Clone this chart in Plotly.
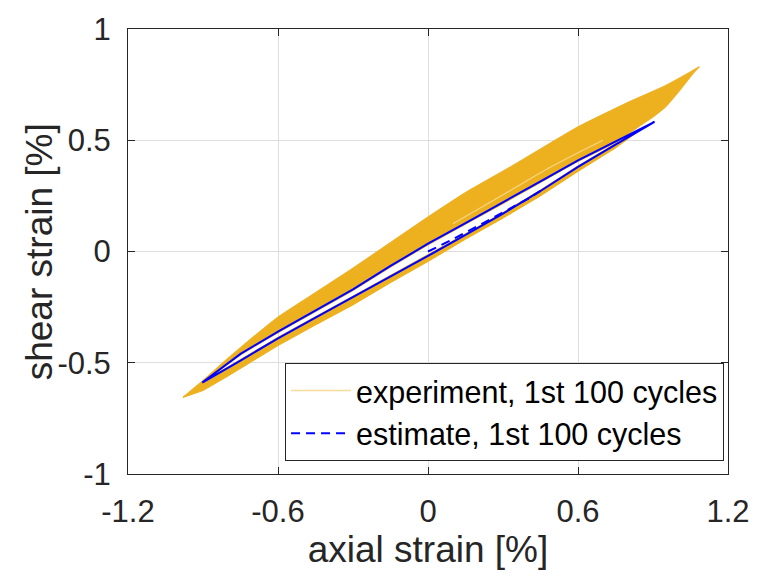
import plotly.graph_objects as go

# ---- axes ----
x_ticks = [-1.2, -0.6, 0, 0.6, 1.2]
x_tick_text = ["-1.2", "-0.6", "0", "0.6", "1.2"]
y_ticks = [-1, -0.5, 0, 0.5, 1]
y_tick_text = ["-1", "-0.5", "0", "0.5", "1"]

# ---- experiment (envelope of the first 100 cycles) ----
# top edge of the unloading band, from the negative tip to the positive tip
exp_top_x = [-0.98, -0.9, -0.8, -0.7, -0.6, -0.45, -0.3, -0.15, 0.0, 0.15, 0.33, 0.6, 0.8, 0.95, 1.04, 1.085]
exp_top_y = [-0.656, -0.58, -0.48, -0.385, -0.295, -0.185, -0.075, 0.04, 0.155, 0.265, 0.38, 0.56, 0.67, 0.745, 0.8, 0.83]
# outer edge of the positive tip
exp_tip_x = [1.06, 1.0, 0.95, 0.9, 0.86]
exp_tip_y = [0.80, 0.715, 0.65, 0.605, 0.575]
# inner edge of the unloading band
exp_unload_x = [0.75, 0.6, 0.45, 0.3, 0.15, 0.0, -0.15, -0.3, -0.45, -0.6, -0.75, -0.9]
exp_unload_y = [0.49, 0.405, 0.31, 0.215, 0.123, 0.03, -0.07, -0.175, -0.27, -0.365, -0.465, -0.59]
# lower edge of the loading branch
exp_load_x = [-0.98, -0.9, -0.8, -0.7, -0.6, -0.45, -0.3, -0.15, 0.0, 0.15, 0.3, 0.45, 0.6, 0.75, 0.86]
exp_load_y = [-0.656, -0.625, -0.56, -0.49, -0.423, -0.33, -0.24, -0.14, -0.045, 0.055, 0.15, 0.25, 0.36, 0.465, 0.555]
# inner edge of the loading branch
exp_load_in_x = [0.75, 0.6, 0.45, 0.3, 0.15, 0.0, -0.15, -0.3, -0.45, -0.6, -0.75, -0.9]
exp_load_in_y = [0.485, 0.385, 0.277, 0.175, 0.08, -0.015, -0.107, -0.2, -0.292, -0.385, -0.485, -0.585]
# faint streak of lighter cycles inside the band
exp_streak_x = [0.1, 0.3, 0.5, 0.7]
exp_streak_y = [0.125, 0.255, 0.385, 0.5]

# ---- estimate ----
est_unload_x = [0.906, 0.75, 0.6, 0.45, 0.3, 0.15, 0.0, -0.15, -0.3, -0.45, -0.6, -0.75, -0.903]
est_unload_y = [0.583, 0.495, 0.41, 0.315, 0.22, 0.128, 0.035, -0.065, -0.17, -0.265, -0.36, -0.46, -0.589]
est_load_x = [-0.903, -0.75, -0.6, -0.45, -0.3, -0.15, 0.0, 0.15, 0.3, 0.45, 0.6, 0.75, 0.906]
est_load_y = [-0.589, -0.49, -0.39, -0.297, -0.205, -0.112, -0.02, 0.075, 0.17, 0.272, 0.38, 0.48, 0.583]
est_init_x = [0.0, 0.1, 0.2, 0.3, 0.4, 0.45]
est_init_y = [0.0, 0.055, 0.115, 0.175, 0.237, 0.272]

ORANGE = "#EDB120"
BLUE = "#0000FF"
FONT = "Liberation Sans, Arial, Helvetica, sans-serif"
TEXT = "#262626"

band_x = exp_top_x + exp_tip_x + exp_unload_x + [exp_top_x[0]]
band_y = exp_top_y + exp_tip_y + exp_unload_y + [exp_top_y[0]]
load_x = exp_load_x + exp_load_in_x + [exp_load_x[0]]
load_y = exp_load_y + exp_load_in_y + [exp_load_y[0]]

fig = go.Figure()

# legend entry for the experiment cycles (thin translucent line)
fig.add_trace(go.Scatter(
    x=band_x, y=band_y, mode="lines",
    line=dict(color="rgba(237,177,32,0.45)", width=1.5),
    name="experiment, 1st 100 cycles", legendgroup="exp", hoverinfo="skip"))
fig.add_trace(go.Scatter(
    x=band_x, y=band_y, mode="lines", fill="toself", fillcolor=ORANGE,
    line=dict(color=ORANGE, width=1, shape="spline", smoothing=0.6),
    showlegend=False, legendgroup="exp"))
fig.add_trace(go.Scatter(
    x=load_x, y=load_y, mode="lines", fill="toself", fillcolor=ORANGE,
    line=dict(color=ORANGE, width=1), showlegend=False, legendgroup="exp"))
fig.add_trace(go.Scatter(
    x=exp_streak_x, y=exp_streak_y, mode="lines",
    line=dict(color="rgba(255,244,215,0.55)", width=1.2, shape="spline"),
    showlegend=False, hoverinfo="skip"))

# estimate: stabilised loop and initial loading
fig.add_trace(go.Scatter(
    x=est_unload_x + est_load_x[1:], y=est_unload_y + est_load_y[1:], mode="lines",
    line=dict(color=BLUE, width=2), showlegend=False, legendgroup="est"))
fig.add_trace(go.Scatter(
    x=est_init_x, y=est_init_y, mode="lines",
    line=dict(color=BLUE, width=2, dash="9px,6px"),
    name="estimate, 1st 100 cycles", legendgroup="est"))

axis_common = dict(
    showgrid=True, gridcolor="#DEDEDE", gridwidth=1,
    zeroline=False, showline=True, linecolor=TEXT, linewidth=1,
    mirror="ticks", ticks="inside", ticklen=7, tickcolor=TEXT,
    tickfont=dict(family=FONT, size=31, color=TEXT),
    ticklabelstandoff=10,
)

fig.update_xaxes(range=[-1.2, 1.2], tickvals=x_ticks, ticktext=x_tick_text,
                 title=dict(text="axial strain [%]", font=dict(family=FONT, size=37, color=TEXT), standoff=2),
                 **axis_common)
fig.update_yaxes(range=[-1, 1], tickvals=y_ticks, ticktext=y_tick_text, **axis_common)

# y-axis label sits close to the tick labels
fig.add_annotation(
    text="shear strain [%]", xref="paper", yref="paper", x=-0.147, y=0.5,
    xanchor="center", yanchor="middle", textangle=-90, showarrow=False,
    font=dict(family=FONT, size=37, color=TEXT))

fig.update_layout(
    width=762, height=583,
    margin=dict(l=128, r=29, t=20, b=109),
    paper_bgcolor="white", plot_bgcolor="white",
    showlegend=True,
    legend=dict(
        x=0.9934, y=0.0286, xanchor="right", yanchor="bottom",
        bgcolor="white", bordercolor=TEXT, borderwidth=1,
        font=dict(family=FONT, size=30.5, color="#000000"),
        itemwidth=60, tracegroupgap=0,
    ),
)

fig.write_html("out.html")
